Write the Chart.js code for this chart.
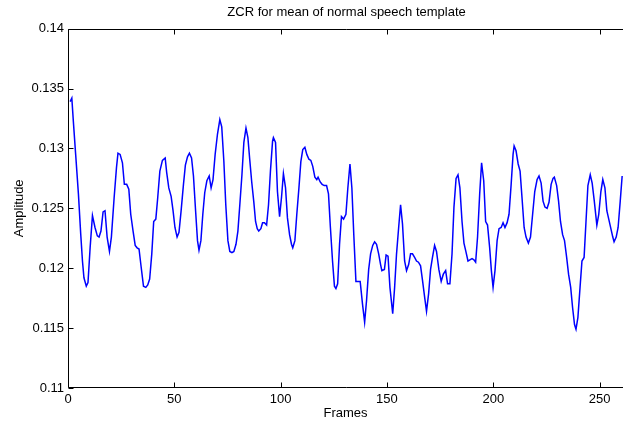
<!DOCTYPE html>
<html>
<head>
<meta charset="utf-8">
<script src="https://cdn.jsdelivr.net/npm/chart.js@4.4.1/dist/chart.umd.min.js"></script>
<style>
  html, body { margin: 0; padding: 0; background: #fff; }
  #wrap { width: 623px; height: 422px; }
</style>
</head>
<body>
<div id="wrap"><canvas id="c" width="623" height="422"></canvas></div>
<script>
// ---- Data ----
const chartTitle = "ZCR for mean of normal speech template";
const xAxisTitle = "Frames";
const yAxisTitle = "Amplitude";

const xTickValues = [0, 50, 100, 150, 200, 250];
const xTickLabels = ["0", "50", "100", "150", "200", "250"];
const yTickValues = [0.11, 0.115, 0.12, 0.125, 0.13, 0.135, 0.14];
const yTickLabels = ["0.11", "0.115", "0.12", "0.125", "0.13", "0.135", "0.14"];

const frames = [
  1,1.8,2.5,3.6,4.9,6,6.8,7.5,8.6,9.4,10.4,11.5,12.7,13.8,14.6,15.5,16.5,17.4,18.4,19.5,
  20.4,21.7,22.8,23.5,24.5,25.6,26.5,27.6,28.6,29.5,30.6,31.6,32.5,33.4,34.4,35.5,36.6,37.5,38.4,39.4,
  40.3,41.3,42.2,43.2,44.4,45.7,46.4,47.4,48.5,49.4,50.3,51.3,52.2,53.2,54.3,55.2,56.2,57.1,58.1,59,
  60,60.9,61.6,62.5,63.4,64.3,65.3,66.4,67.3,68.2,69.2,70.3,71.4,72.3,73.3,74.2,75.2,76.1,77.1,78,
  79,79.9,80.8,81.8,82.7,83.7,84.6,85.5,86.4,87.4,88.2,89,89.7,90.7,91.5,92.4,93.4,94.3,95.2,96.2,
  96.6,97.6,98.5,99.5,100.4,101.3,102.3,103.2,104.2,105.1,105.7,106.7,107.6,108.6,109.5,110.4,111.4,112.3,113.3,114.2,
  115.1,116.1,117,117.6,118.6,119.5,120.5,121.6,122.5,123.4,124.4,125.3,126,126.8,127.7,128.6,129.6,130.7,131.6,132.6,
  133.5,134.4,135.4,136.3,137.4,138.5,139.5,140.4,141.4,142.3,143.3,144.2,145.1,146.1,147,147.6,148.8,149.6,150.5,151.4,
  152.7,153.6,154.5,155.5,156.4,157.3,158.3,159.2,160.2,161.1,162,163,163.9,164.8,165.8,166.7,167.7,168.6,169.6,170.5,
  171.4,172.4,173.3,174.4,175.5,176.5,177.6,178.5,179.6,180.6,181.5,182.5,183.4,184.3,185.3,186.2,187.1,188.1,189,190,
  190.9,191.7,192.6,193.6,194.5,195.5,196.4,197.3,198.3,199.1,199.9,200.8,201.8,202.7,203.7,204.6,205.5,206.5,207.4,208.4,
  209.3,209.8,210.7,211.7,212.6,213.5,214.5,215.4,216.5,217.5,218.5,219.5,220.6,221.5,222.5,223.4,224.3,225.3,226.2,227.2,
  228.1,228.7,229.8,230.7,231.6,232.6,233.5,234.5,235.4,236.4,237.3,238.2,238.9,239.8,240.8,241.7,242.7,243.6,244.5,245.6,
  246.5,247.5,248.7,249.6,250.6,251.5,252.5,253.4,254.3,255.3,256.2,256.8,257.8,258.7,259.7,260.6
];

const zcr = [
  0.1339,0.1342,0.1323,0.1295,0.1262,0.1228,0.1206,0.1192,0.1185,0.1188,0.1217,0.1244,0.1234,0.1227,0.1226,0.1231,0.1247,0.1248,0.1226,0.1214,
  0.1226,0.1259,0.1284,0.1296,0.1295,0.1288,0.1270,0.1270,0.1266,0.1245,0.1231,0.1219,0.1217,0.1216,0.1201,0.1185,0.1184,0.1186,0.1191,0.1212,
  0.1239,0.1241,0.1259,0.1281,0.1290,0.1292,0.1280,0.1267,0.1260,0.1248,0.1234,0.1226,0.1230,0.1248,0.1270,0.1286,0.1293,0.1296,0.1292,0.1277,
  0.1248,0.1223,0.1215,0.1223,0.1245,0.1263,0.1273,0.1277,0.1267,0.1274,0.1295,0.1312,0.1324,0.1318,0.1289,0.1253,0.1223,0.1214,0.1213,0.1214,
  0.1220,0.1231,0.1253,0.1278,0.1305,0.1317,0.1309,0.1290,0.1272,0.1255,0.1239,0.1233,0.1231,0.1233,0.1238,0.1238,0.1236,0.1253,0.1281,0.1306,
  0.1309,0.1305,0.1264,0.1243,0.1259,0.1279,0.1267,0.1242,0.1228,0.1220,0.1217,0.1223,0.1245,0.1267,0.1289,0.1299,0.1301,0.1295,0.1291,0.1290,
  0.1285,0.1276,0.1274,0.1276,0.1272,0.1270,0.1269,0.1269,0.1262,0.1234,0.1206,0.1185,0.1183,0.1187,0.1220,0.1243,0.1241,0.1245,0.1267,0.1287,
  0.1267,0.1228,0.1189,0.1189,0.1189,0.1170,0.1155,0.1173,0.1199,0.1212,0.1219,0.1222,0.1220,0.1212,0.1203,0.1198,0.1199,0.1211,0.1210,0.1184,
  0.1162,0.1184,0.1212,0.1234,0.1253,0.1237,0.1206,0.1198,0.1203,0.1212,0.1212,0.1209,0.1206,0.1205,0.1202,0.1190,0.1176,0.1164,0.1179,0.1199,
  0.1209,0.1219,0.1214,0.1199,0.1189,0.1195,0.1198,0.1187,0.1187,0.1212,0.1251,0.1275,0.1278,0.1267,0.1239,0.1221,0.1214,0.1206,0.1207,0.1208,
  0.1207,0.1205,0.1226,0.1262,0.1288,0.1273,0.1239,0.1236,0.1217,0.1198,0.1184,0.1198,0.1223,0.1233,0.1234,0.1238,0.1234,0.1238,0.1245,0.1270,
  0.1295,0.1302,0.1298,0.1287,0.1281,0.1259,0.1234,0.1226,0.1221,0.1226,0.1245,0.1264,0.1274,0.1277,0.1271,0.1256,0.1251,0.1250,0.1255,0.1270,
  0.1275,0.1276,0.1269,0.1256,0.1239,0.1228,0.1223,0.1209,0.1195,0.1184,0.1167,0.1153,0.1149,0.1159,0.1184,0.1206,0.1209,0.1239,0.1269,0.1278,
  0.1271,0.1256,0.1236,0.1245,0.1264,0.1274,0.1267,0.1248,0.1241,0.1233,0.1226,0.1222,0.1226,0.1234,0.1256,0.1277
];

const X_MIN = 0, X_MAX = 261;
const X_AXES_END = 262;   // full MATLAB axes width (right edge is cropped off the picture)
const Y_MIN = 0.11, Y_MAX = 0.14;

const FONT = "'Liberation Sans', Arial, Helvetica, sans-serif";

const points = frames.map((f, i) => ({ x: f, y: zcr[i] }));

// MATLAB-style frame with inward ticks, and title centred over the (cropped) axes
const framePlugin = {
  id: 'matlabFrame',
  afterDraw(chart) {
    const { ctx, chartArea, scales } = chart;
    const { left, top, right, bottom } = chartArea;
    const x = scales.x, y = scales.y;
    const TL = 5;
    ctx.save();
    ctx.strokeStyle = '#000';
    ctx.lineWidth = 1;
    ctx.beginPath();
    const L = Math.round(left) + 0.5, T = Math.round(top) + 0.5, B = Math.round(bottom) - 0.5;
    ctx.moveTo(L, T); ctx.lineTo(right + 2, T);
    ctx.moveTo(L, T); ctx.lineTo(L, B);
    ctx.moveTo(L, B); ctx.lineTo(right + 2, B);
    xTickValues.forEach(v => {
      const px = Math.round(x.getPixelForValue(v)) + 0.5;
      ctx.moveTo(px, B); ctx.lineTo(px, B - TL);
      ctx.moveTo(px, T); ctx.lineTo(px, T + TL);
    });
    yTickValues.forEach(v => {
      const py = Math.round(y.getPixelForValue(v)) + 0.5;
      ctx.moveTo(L, py); ctx.lineTo(L + TL, py);
    });
    ctx.stroke();

    // title
    const cx = x.getPixelForValue((X_MIN + X_AXES_END) / 2);
    ctx.fillStyle = '#000';
    ctx.font = "13px " + FONT;
    ctx.textAlign = 'center';
    ctx.textBaseline = 'middle';
    ctx.fillText(chartTitle, cx, 12);
    ctx.restore();
  }
};

const bgPlugin = {
  id: 'bg',
  beforeDraw(chart) {
    const ctx = chart.ctx;
    ctx.save();
    ctx.fillStyle = '#fff';
    ctx.fillRect(0, 0, chart.width, chart.height);
    ctx.restore();
  }
};

new Chart(document.getElementById('c'), {
  type: 'line',
  data: {
    datasets: [{
      data: points,
      borderColor: '#0000ff',
      borderWidth: 1.5,
      pointRadius: 0,
      tension: 0,
      fill: false
    }]
  },
  options: {
    responsive: false,
    animation: false,
    events: [],
    layout: { padding: { left: 0, right: 0, top: 28.6, bottom: 0 } },
    plugins: {
      legend: { display: false },
      tooltip: { enabled: false },
      title: { display: false }
    },
    scales: {
      x: {
        type: 'linear',
        min: X_MIN,
        max: X_MAX,
        afterBuildTicks: s => { s.ticks = xTickValues.map(v => ({ value: v })); },
        afterFit: s => { s.height = 34; },
        grid: { display: false, drawTicks: false },
        border: { display: false },
        ticks: {
          color: '#000',
          font: { family: FONT, size: 13 },
          padding: 4,
          maxRotation: 0,
          autoSkip: false,
          callback: (v, i) => xTickLabels[i]
        },
        title: {
          display: true,
          text: xAxisTitle,
          color: '#000',
          font: { family: FONT, size: 13 },
          padding: { top: 0, bottom: 1 }
        }
      },
      y: {
        type: 'linear',
        min: Y_MIN,
        max: Y_MAX,
        afterBuildTicks: s => { s.ticks = yTickValues.map(v => ({ value: v })); },
        afterFit: s => { s.width = 68; },
        grid: { display: false, drawTicks: false },
        border: { display: false },
        ticks: {
          color: '#000',
          font: { family: FONT, size: 13 },
          padding: 4,
          autoSkip: false,
          callback: (v, i) => yTickLabels[i]
        },
        title: {
          display: true,
          text: yAxisTitle,
          color: '#000',
          font: { family: FONT, size: 13 },
          padding: { top: 12, bottom: 0 }
        }
      }
    }
  },
  plugins: [bgPlugin, framePlugin]
});
</script>
</body>
</html>
